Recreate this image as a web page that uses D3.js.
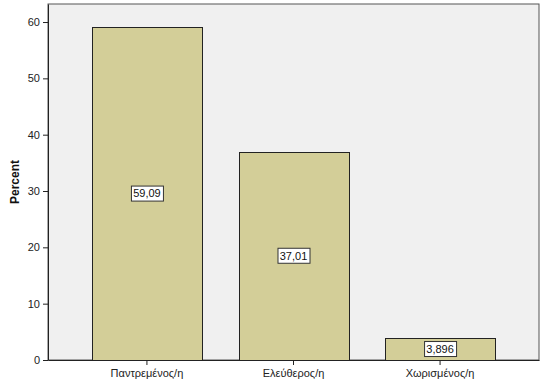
<!DOCTYPE html>
<html>
<head>
<meta charset="utf-8">
<script src="https://cdn.jsdelivr.net/npm/d3@7"></script>
<style>
  body { margin: 0; background: #fff; }
  text { font-family: Arial, "Liberation Sans", sans-serif; }
</style>
</head>
<body>
<svg id="chart"></svg>
<script>
// data
const categories = ['Παντρεμένος/η', 'Ελεύθερος/η', 'Χωρισμένος/η'];
const percents = [59.09, 37.01, 3.896];
const valueLabels = ['59,09', '37,01', '3,896'];
const yTicks = [0, 10, 20, 30, 40, 50, 60];

const width = 560, height = 385;
const plot = { left: 48, right: 539, top: 4, bottom: 360 };

const svg = d3.select('#chart')
  .attr('width', width)
  .attr('height', height);

const x = d3.scaleBand()
  .domain(categories)
  .range([plot.left, plot.right])
  .paddingInner(0.25)
  .paddingOuter(0.3);

const y = d3.scaleLinear()
  .domain([0, 63.2])
  .range([plot.bottom, plot.top]);

// plot background + frame
svg.append('rect')
  .attr('x', plot.left)
  .attr('y', plot.top)
  .attr('width', plot.right - plot.left)
  .attr('height', plot.bottom - plot.top)
  .style('fill', '#f0f0f0')
  .style('stroke', '#555')
  .style('stroke-width', 1);

const data = categories.map((c, i) => ({ cat: c, val: percents[i], label: valueLabels[i] }));

// bars
svg.selectAll('.bar')
  .data(data)
  .enter().append('rect')
  .attr('class', 'bar')
  .attr('x', d => Math.round(x(d.cat)) + 0.5)
  .attr('y', d => Math.round(y(d.val)) + 0.5)
  .attr('width', Math.round(x.bandwidth()))
  .attr('height', d => Math.round(y(0)) - Math.round(y(d.val)))
  .style('fill', '#d3ce98')
  .style('stroke', '#222')
  .style('stroke-width', 1);

// y axis
const yAxis = svg.append('g')
  .attr('transform', `translate(${plot.left},0)`)
  .call(d3.axisLeft(y).tickValues(yTicks).tickSize(5).tickPadding(3).tickSizeOuter(0));
yAxis.select('.domain').style('stroke', '#222');
yAxis.selectAll('.tick line').style('stroke', '#222');
yAxis.selectAll('.tick text')
  .style('font-size', '11px')
  .style('fill', '#222')
  .style('font-family', 'Arial, "Liberation Sans", sans-serif');

// x axis
const xAxis = svg.append('g')
  .attr('transform', `translate(0,${plot.bottom})`)
  .call(d3.axisBottom(x).tickSize(5).tickPadding(4).tickSizeOuter(0));
xAxis.select('.domain').style('stroke', '#222');
xAxis.selectAll('.tick line').style('stroke', '#222');
xAxis.selectAll('.tick text')
  .style('font-size', '11px')
  .style('fill', '#222')
  .style('font-family', 'Arial, "Liberation Sans", sans-serif');

// y axis title
svg.append('text')
  .attr('transform', `translate(19,${(plot.top + plot.bottom) / 2}) rotate(-90)`)
  .attr('text-anchor', 'middle')
  .style('font-size', '12px')
  .style('font-weight', 'bold')
  .style('fill', '#111')
  .text('Percent');

// value labels in boxes
const lab = svg.selectAll('.val')
  .data(data)
  .enter().append('g')
  .attr('class', 'val')
  .attr('transform', d => `translate(${x(d.cat) + x.bandwidth() / 2},${(y(d.val) + y(0)) / 2})`);

lab.append('text')
  .attr('text-anchor', 'middle')
  .attr('dy', '0.35em')
  .style('font-size', '11px')
  .style('fill', '#111')
  .text(d => d.label);

lab.each(function() {
  const g = d3.select(this);
  const bb = g.select('text').node().getBBox();
  g.insert('rect', 'text')
    .attr('x', Math.round(bb.x - 2) + 0.5)
    .attr('y', Math.round(bb.y - 2) + 0.5)
    .attr('width', Math.round(bb.width + 4))
    .attr('height', Math.round(bb.height + 3))
    .style('fill', '#fff')
    .style('stroke', '#333')
    .style('stroke-width', 1);
});
</script>
</body>
</html>
